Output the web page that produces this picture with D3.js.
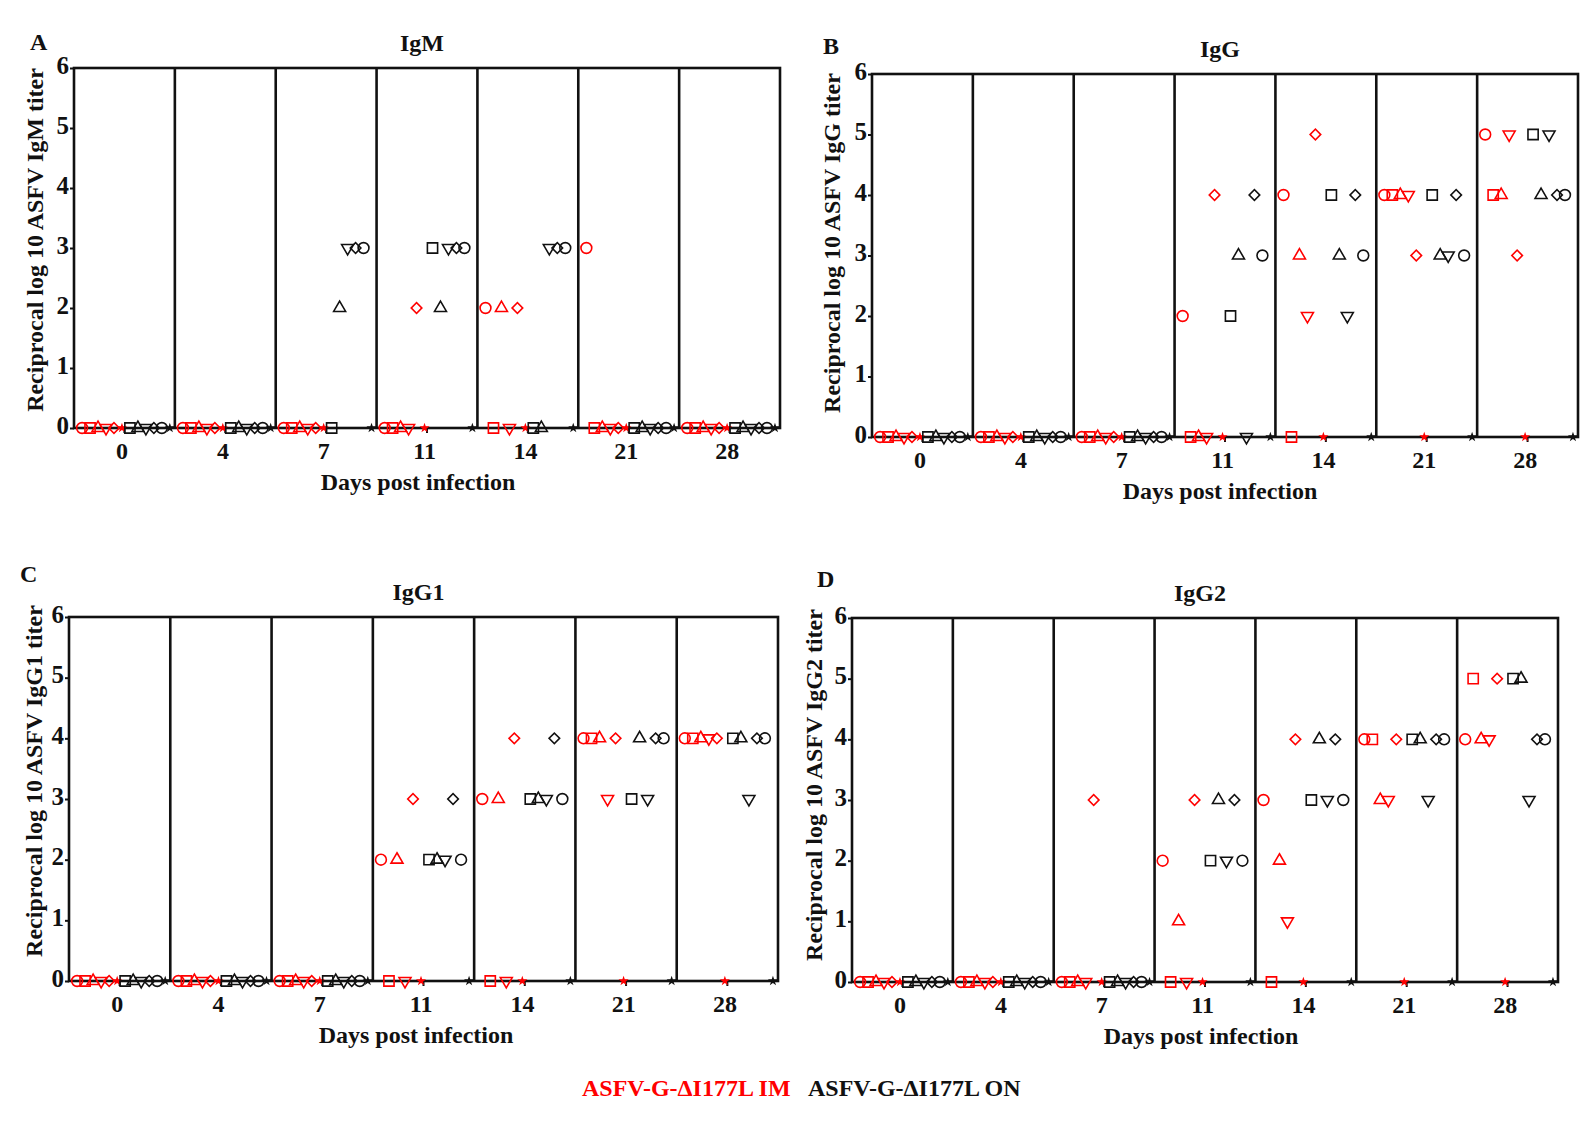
<!DOCTYPE html>
<html>
<head>
<meta charset="utf-8">
<script src="https://cdn.jsdelivr.net/npm/d3@7"></script>
<style>
  body { margin: 0; background: #fff; }
  text { font-family: "Liberation Serif", "Times New Roman", serif; font-weight: bold; }
</style>
</head>
<body>
<div id="chart"></div>
<script>
// days post infection (one column group per day)
var days = ["0", "4", "7", "11", "14", "21", "28"];

// marker shape for each animal, in the order they are plotted inside a group
var imShapes = ["circle", "square", "triangle", "triangleDown", "diamond", "star"];
var onShapes = ["square", "triangle", "triangleDown", "diamond", "circle", "star"];

// the star columns sit on zero at every day
var imStar = [0, 0, 0, 0, 0, 0, 0];
var onStar = [0, 0, 0, 0, 0, 0, 0];

// rows = animals (shape order above), columns = days
var igmIM = [
    [0, 0, 0, 0, 2, 3, 0],
    [0, 0, 0, 0, 0, 0, 0],
    [0, 0, 0, 0, 2, 0, 0],
    [0, 0, 0, 0, 0, 0, 0],
    [0, 0, 0, 2, 2, 0, 0]
];
var igmON = [
    [0, 0, 0, 3, 0, 0, 0],
    [0, 0, 2, 2, 0, 0, 0],
    [0, 0, 3, 3, 3, 0, 0],
    [0, 0, 3, 3, 3, 0, 0],
    [0, 0, 3, 3, 3, 0, 0]
];

var iggIM = [
    [0, 0, 0, 2, 4, 4, 5],
    [0, 0, 0, 0, 0, 4, 4],
    [0, 0, 0, 0, 3, 4, 4],
    [0, 0, 0, 0, 2, 4, 5],
    [0, 0, 0, 4, 5, 3, 3]
];
var iggON = [
    [0, 0, 0, 2, 4, 4, 5],
    [0, 0, 0, 3, 3, 3, 4],
    [0, 0, 0, 0, 2, 3, 5],
    [0, 0, 0, 4, 4, 4, 4],
    [0, 0, 0, 3, 3, 3, 4]
];

var igg1IM = [
    [0, 0, 0, 2, 3, 4, 4],
    [0, 0, 0, 0, 0, 4, 4],
    [0, 0, 0, 2, 3, 4, 4],
    [0, 0, 0, 0, 0, 3, 4],
    [0, 0, 0, 3, 4, 4, 4]
];
var igg1ON = [
    [0, 0, 0, 2, 3, 3, 4],
    [0, 0, 0, 2, 3, 4, 4],
    [0, 0, 0, 2, 3, 3, 3],
    [0, 0, 0, 3, 4, 4, 4],
    [0, 0, 0, 2, 3, 4, 4]
];

var igg2IM = [
    [0, 0, 0, 2, 3, 4, 4],
    [0, 0, 0, 0, 0, 4, 5],
    [0, 0, 0, 1, 2, 3, 4],
    [0, 0, 0, 0, 1, 3, 4],
    [0, 0, 3, 3, 4, 4, 5]
];
var igg2ON = [
    [0, 0, 0, 2, 3, 4, 5],
    [0, 0, 0, 3, 4, 4, 5],
    [0, 0, 0, 2, 3, 3, 3],
    [0, 0, 0, 3, 4, 4, 4],
    [0, 0, 0, 2, 3, 4, 4]
];

var yTicks = [0, 1, 2, 3, 4, 5, 6];

var RED = "#ff0000";
var BLACK = "#111111";

var panels = [
    { letter: "A", title: "IgM", ylab: "Reciprocal log 10 ASFV IgM titer", im: igmIM, on: igmON,
      x0: 74, x1: 780, top: 68, bottom: 428, lx: 30, ly: 50, tx: 35, ty: 240, dx: 418 },
    { letter: "B", title: "IgG", ylab: "Reciprocal log 10 ASFV IgG titer", im: iggIM, on: iggON,
      x0: 872, x1: 1578, top: 74, bottom: 437, lx: 823, ly: 54, tx: 832, ty: 243, dx: 1220 },
    { letter: "C", title: "IgG1", ylab: "Reciprocal log 10 ASFV IgG1 titer", im: igg1IM, on: igg1ON,
      x0: 69, x1: 778, top: 617, bottom: 981, lx: 20, ly: 582, tx: 34, ty: 781, dx: 416 },
    { letter: "D", title: "IgG2", ylab: "Reciprocal log 10 ASFV IgG2 titer", im: igg2IM, on: igg2ON,
      x0: 852, x1: 1558, top: 618, bottom: 982, lx: 817, ly: 587, tx: 814, ty: 785, dx: 1201 }
];

var svg = d3.select("#chart").append("svg").attr("width", 1596).attr("height", 1125);

function markerPath(shape) {
    if (shape === "circle") return d3.symbol(d3.symbolCircle, 92)();
    if (shape === "square") return d3.symbol(d3.symbolSquare, 104)();
    if (shape === "triangle" || shape === "triangleDown") return d3.symbol(d3.symbolTriangle, 62)();
    if (shape === "diamond") return d3.symbol(d3.symbolSquare, 56)();
    return d3.symbol(d3.symbolStar, 32)();
}

function markerRotate(shape) {
    if (shape === "triangleDown") return 180;
    if (shape === "diamond") return 45;
    return 0;
}

panels.forEach(function (p) {
    var g = svg.append("g");

    var x = d3.scaleBand().domain(days).range([p.x0, p.x1]).padding(0);
    var bw = x.bandwidth();
    var slot = d3.scalePoint().domain(d3.range(12)).range([bw * 0.08, bw * 0.95]);
    var y = d3.scaleLinear().domain([0, 6]).range([p.bottom, p.top]);

    // frame
    g.append("rect")
        .attr("x", p.x0).attr("y", p.top)
        .attr("width", p.x1 - p.x0).attr("height", p.bottom - p.top)
        .attr("fill", "none").attr("stroke", BLACK).attr("stroke-width", 2.6);

    // separators between day groups
    g.selectAll("line.sep")
        .data(days.slice(1)).enter().append("line")
        .attr("class", "sep")
        .attr("x1", function (d) { return x(d); })
        .attr("x2", function (d) { return x(d); })
        .attr("y1", p.top).attr("y2", p.bottom)
        .attr("stroke", BLACK).attr("stroke-width", 2.6);

    // y axis
    var yAxis = g.append("g")
        .attr("transform", "translate(" + p.x0 + ",0)")
        .call(d3.axisLeft(y).tickValues(yTicks).tickSize(4).tickSizeOuter(0).tickPadding(1)
            .tickFormat(d3.format("d")));
    yAxis.select(".domain").remove();
    yAxis.selectAll("line").attr("stroke", BLACK).attr("stroke-width", 2);
    yAxis.selectAll("text").attr("dy", "0.2em").style("font-size", "25px").attr("fill", BLACK);

    // x axis
    var xAxis = g.append("g")
        .attr("transform", "translate(0," + p.bottom + ")")
        .call(d3.axisBottom(x).tickSize(5).tickSizeOuter(0).tickPadding(9));
    xAxis.select(".domain").remove();
    xAxis.selectAll("line").attr("stroke", BLACK).attr("stroke-width", 2);
    xAxis.selectAll("text").attr("dx", "-0.1em").style("font-size", "24px").attr("fill", BLACK);

    // points
    var pts = [];
    days.forEach(function (d, j) {
        imShapes.forEach(function (s, i) {
            pts.push({ day: d, slot: i, shape: s, color: RED, v: i < 5 ? p.im[i][j] : imStar[j] });
        });
        onShapes.forEach(function (s, i) {
            pts.push({ day: d, slot: 6 + i, shape: s, color: BLACK, v: i < 5 ? p.on[i][j] : onStar[j] });
        });
    });

    g.selectAll("path.pt")
        .data(pts).enter().append("path")
        .attr("class", "pt")
        .attr("d", function (d) { return markerPath(d.shape); })
        .attr("transform", function (d) {
            return "translate(" + (x(d.day) + slot(d.slot)) + "," + y(d.v) + ") rotate(" + markerRotate(d.shape) + ")";
        })
        .attr("fill", function (d) { return d.shape === "star" ? d.color : "none"; })
        .attr("stroke", function (d) { return d.shape === "star" ? "none" : d.color; })
        .attr("stroke-width", 1.6);

    // labels
    g.append("text").attr("x", p.lx).attr("y", p.ly)
        .style("font-size", "24px").attr("fill", BLACK).text(p.letter);

    g.append("text").attr("x", (p.x0 + p.x1) / 2 - 5).attr("y", p.top - 17)
        .attr("text-anchor", "middle").style("font-size", "24px").attr("fill", BLACK).text(p.title);

    g.append("text")
        .attr("transform", "translate(" + (p.tx + 8) + "," + p.ty + ") rotate(-90)")
        .attr("text-anchor", "middle").style("font-size", "24px").attr("fill", BLACK).text(p.ylab);

    g.append("text").attr("x", p.dx).attr("y", p.bottom + 62)
        .attr("text-anchor", "middle").style("font-size", "24px").attr("fill", BLACK)
        .text("Days post infection");
});

// legend
svg.append("text").attr("x", 582).attr("y", 1096)
    .style("font-size", "24px").attr("fill", RED).text("ASFV-G-\u0394I177L IM");
svg.append("text").attr("x", 808).attr("y", 1096)
    .style("font-size", "24px").attr("fill", BLACK).text("ASFV-G-\u0394I177L ON");
</script>
</body>
</html>
